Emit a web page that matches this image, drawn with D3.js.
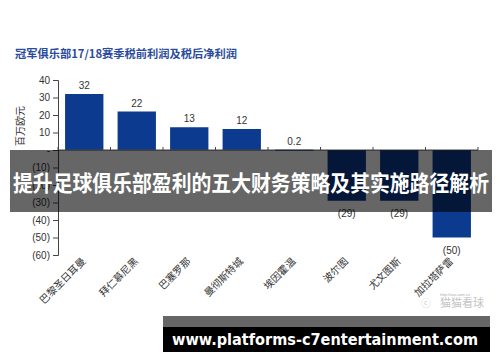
<!DOCTYPE html>
<html><head><meta charset="utf-8">
<script src="https://cdn.jsdelivr.net/npm/d3@7"></script>
<style>body{margin:0;background:#fff}svg{display:block}</style>
</head><body>
<svg id="c" width="500" height="362"></svg>
<script>
const title = "冠军俱乐部17/18赛季税前利润及税后净利润";
const categories = ["巴黎圣日耳曼","拜仁慕尼黑","巴塞罗那","曼彻斯特城","埃因霍温","波尔图","尤文图斯","加拉塔萨雷"];
const profits = [32, 22, 13, 12, 0.2, -29, -29, -50];
const valueLabels = ["32","22","13","12","0.2","(29)","(29)","(50)"];
const yTicks = [40, 30, 20, 10, 0, -10, -20, -30, -40, -50, -60];
const yUnit = "百万欧元";
const bannerText = "提升足球俱乐部盈利的五大财务策略及其实施路径解析";
const urlText = "www.platforms-c7entertainment.com";
const watermark = "猫猫看球";

const svg = d3.select("#c");
const font = "'Noto Sans CJK SC','Noto Sans',sans-serif";
const x = d3.scaleBand().domain(categories).range([58, 478]).paddingInner(0.27).paddingOuter(0.135);
const y = d3.scaleLinear().domain([-60, 40]).range([255, 80]);

svg.append("text").attr("x", 15).attr("y", 58).attr("font-family", font)
  .attr("font-size", 11).attr("font-weight", "bold").attr("fill", "#2b4c9c")
  .attr("textLength", 222).attr("lengthAdjust", "spacingAndGlyphs").text(title);

// bars
svg.append("g").selectAll("rect").data(profits).join("rect")
  .attr("x", (d, i) => x(categories[i]))
  .attr("width", x.bandwidth())
  .attr("y", d => y(Math.max(0, d)))
  .attr("height", d => Math.max(1, Math.abs(y(d) - y(0))))
  .attr("fill", "#0b3a8f");

// value labels
svg.append("g").selectAll("text").data(profits).join("text")
  .attr("x", (d, i) => x(categories[i]) + x.bandwidth() / 2)
  .attr("y", d => d >= 0 ? y(d) - 5 : y(d) + 16)
  .attr("text-anchor", "middle").attr("font-family", "Arial, 'Liberation Sans', sans-serif")
  .attr("font-size", 10).attr("fill", "#333")
  .text((d, i) => valueLabels[i]);

// y axis
const fmt = v => v === 0 ? "-" : v < 0 ? "(" + (-v) + ")" : String(v);
const yAxis = svg.append("g").attr("transform", "translate(58,0)")
  .call(d3.axisLeft(y).tickValues(yTicks).tickFormat(fmt).tickSize(5).tickPadding(3));
yAxis.select(".domain").attr("stroke", "#444");
yAxis.selectAll(".tick line").attr("stroke", "#444");
yAxis.selectAll("text").attr("font-family", "Arial, 'Liberation Sans', sans-serif").attr("font-size", 10).attr("fill", "#333");

// x baseline with boundary ticks
const xb = svg.append("g");
xb.append("line").attr("x1", 58).attr("x2", 478).attr("y1", y(0)).attr("y2", y(0)).attr("stroke", "#444");
const step = x.step();
xb.selectAll("line.t").data(d3.range(categories.length + 1)).join("line").attr("class", "t")
  .attr("x1", i => 58 + i * step).attr("x2", i => 58 + i * step)
  .attr("y1", y(0) - 3).attr("y2", y(0)).attr("stroke", "#444");

// x labels
svg.append("g").selectAll("text").data(categories).join("text")
  .attr("transform", d => `translate(${x(d) + x.bandwidth() / 2 + 2},262) rotate(-45)`)
  .attr("text-anchor", "end").attr("font-family", font).attr("font-size", 10).attr("fill", "#333")
  .text(d => d);

// unit label
svg.append("text").attr("transform", "translate(24,126) rotate(-90)").attr("text-anchor", "middle")
  .attr("font-family", font).attr("font-size", 10).attr("fill", "#333").text(yUnit);

// watermark
svg.append("text").attr("x", 440).attr("y", 296).attr("font-family", "Arial,sans-serif").attr("font-size", 4)
  .attr("fill", "#aaa").text("http://xxx.com.cn");
svg.append("text").attr("x", 484).attr("y", 307).attr("text-anchor", "end").attr("font-family", font)
  .attr("font-size", 11).attr("fill", "#c4c4c4").text(watermark);
svg.append("text").attr("x", 421).attr("y", 307).attr("font-family", font)
  .attr("font-size", 10).attr("fill", "#cfcfcf").text("ⓒ");

// overlay banner
svg.append("rect").attr("x", 10).attr("y", 150).attr("width", 482).attr("height", 62)
  .attr("fill", "#000").attr("opacity", 0.6);
svg.append("text").attr("x", 251).attr("y", 191).attr("text-anchor", "middle")
  .attr("font-family", font).attr("font-size", 22).attr("font-weight", "bold").attr("fill", "#fff")
  .attr("textLength", 476).attr("lengthAdjust", "spacingAndGlyphs").text(bannerText);

// bottom url banner
svg.append("rect").attr("x", 163).attr("y", 316).attr("width", 327).attr("height", 11).attr("fill", "#666");
svg.append("rect").attr("x", 163).attr("y", 327).attr("width", 327).attr("height", 25).attr("fill", "#000");
svg.append("text").attr("x", 172).attr("y", 345).attr("font-family", "'DejaVu Sans',Verdana,sans-serif")
  .attr("font-size", 15).attr("font-weight", "bold").attr("fill", "#fff")
  .attr("textLength", 306).attr("lengthAdjust", "spacingAndGlyphs").text(urlText);
</script>
</body></html>
